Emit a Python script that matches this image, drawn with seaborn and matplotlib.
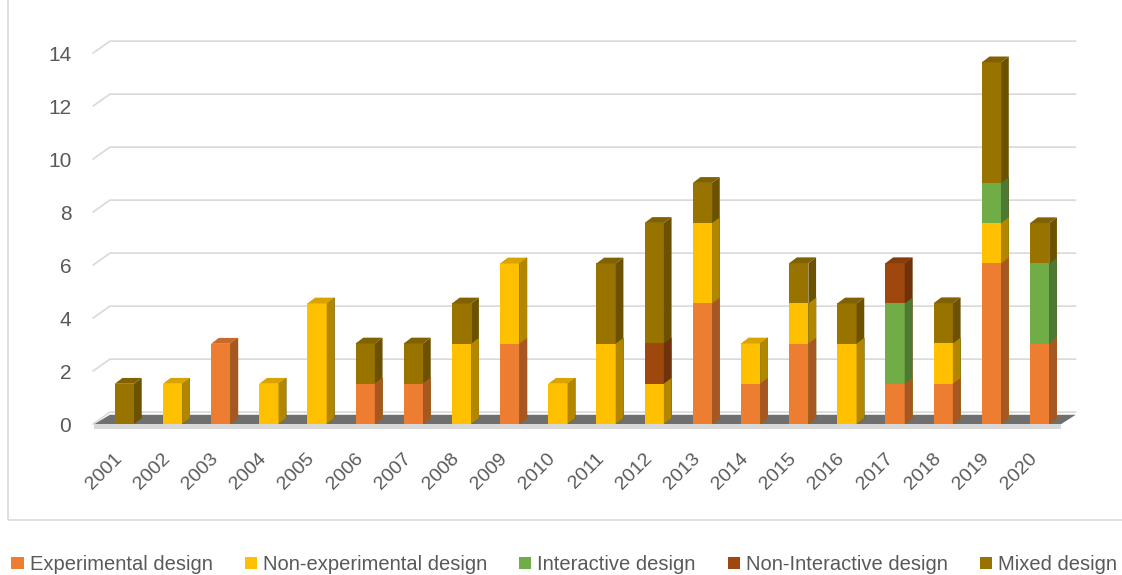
import matplotlib
matplotlib.use("Agg")
import matplotlib.pyplot as plt
import matplotlib.colors as mcolors
from matplotlib.patches import Polygon, Rectangle, Patch
from matplotlib.transforms import ScaledTranslation
import numpy as np
import pandas as pd
import seaborn as sns

years = [str(y) for y in range(2001, 2021)]
experimental     = [0, 0, 3.03, 0, 0, 1.52, 1.52, 0, 3.03, 0, 0, 0, 4.55, 1.52, 3.03, 0, 1.52, 1.52, 6.06, 3.03]
non_experimental = [0, 1.52, 0, 1.52, 4.55, 0, 0, 3.03, 3.03, 1.52, 3.03, 1.52, 3.03, 1.52, 1.52, 3.03, 0, 1.52, 1.52, 0]
interactive      = [0, 0, 0, 0, 0, 0, 0, 0, 0, 0, 0, 0, 0, 0, 0, 0, 3.03, 0, 1.52, 3.03]
non_interactive  = [0, 0, 0, 0, 0, 0, 0, 0, 0, 0, 0, 1.52, 0, 0, 0, 0, 1.52, 0, 0, 0]
mixed            = [1.52, 0, 0, 0, 0, 1.52, 1.52, 1.52, 0, 0, 3.03, 4.55, 1.52, 0, 1.52, 1.52, 0, 1.52, 4.55, 1.52]

series_names = ["Experimental design", "Non-experimental design", "Interactive design",
                "Non-Interactive design", "Mixed design"]
series_vals = [experimental, non_experimental, interactive, non_interactive, mixed]
colors = ["#ED7D31", "#FFC000", "#70AD47", "#9E480E", "#997300"]
yticks = [0, 2, 4, 6, 8, 10, 12, 14]

TEXT = "#595959"
sns.set_theme(style="white")
plt.rcParams["font.family"] = ["Liberation Sans", "DejaVu Sans"]

fig = plt.figure(figsize=(11.22, 5.75), dpi=100)
ax = fig.add_axes([0.0722, 0.2464, 0.893, 0.7166])

df = pd.DataFrame({"year": years})
for n, v in zip(series_names, series_vals):
    df[n] = v
cum = df[series_names].cumsum(axis=1)

def darker(c, f):
    r, g, b = mcolors.to_rgb(c)
    return (r * f, g * f, b * f)

dx, dy = 0.16, 0.22
# draw from top layer down so lower segments overlay
for k in range(len(series_names) - 1, -1, -1):
    n0 = len(ax.patches)
    sns.barplot(x=df["year"], y=cum[series_names[k]], color=colors[k], saturation=1,
                width=0.4, ax=ax, zorder=3, linewidth=0)
    for p in ax.patches[n0:]:
        h = p.get_height()
        if h <= 0:
            continue
        x0 = p.get_x(); w = p.get_width()
        ax.add_patch(Polygon([(x0 + w, 0), (x0 + w + dx, dy), (x0 + w + dx, h + dy), (x0 + w, h)],
                             closed=True, facecolor=darker(colors[k], 0.7), edgecolor="none", zorder=3))

# top faces for the total height
for i, p in enumerate(ax.patches[:len(years)]):
    h = p.get_height()
    col = None
    for k in range(len(series_names) - 1, -1, -1):
        if series_vals[k][i] > 0:
            col = colors[k]
            break
    if col is None:
        continue
    x0 = p.get_x(); w = p.get_width()
    ax.add_patch(Polygon([(x0, h), (x0 + w, h), (x0 + w + dx, h + dy), (x0 + dx, h + dy)],
                         closed=True, facecolor=darker(col, 0.85), edgecolor="none", zorder=3))

# gridlines with a slanted stub (3D back wall look)
for t in yticks:
    ax.plot([-0.65, -0.3, 19.75], [t, t + 0.45, t + 0.45], color="#d9d9d9", lw=1.2,
            zorder=1, solid_joinstyle="round")

# floor
ax.add_patch(Polygon([(-0.62, 0), (19.45, 0), (19.75, 0.35), (-0.3, 0.35)], closed=True,
                     facecolor="#6f6f6f", edgecolor="none", zorder=2))
ax.add_patch(Polygon([(-0.62, -0.18), (19.45, -0.18), (19.45, 0), (-0.62, 0)], closed=True,
                     facecolor="#d9d9d9", edgecolor="none", zorder=2))

ax.set_xlim(-0.9, 19.9)
ax.set_ylim(-0.35, 15.2)
ax.set_yticks(yticks)
ax.set_yticklabels([str(t) for t in yticks], fontsize=15, color=TEXT)
ax.tick_params(axis="y", length=0, pad=7)
ax.tick_params(axis="x", length=0, pad=0)
ax.set_xticks(range(len(years)))
ax.set_xticklabels(years, rotation=45, ha="right", va="center", rotation_mode="anchor",
                   fontsize=14, color=TEXT)
off = ScaledTranslation(-5 / 100, -23 / 100, fig.dpi_scale_trans)
for lab in ax.get_xticklabels():
    lab.set_transform(lab.get_transform() + off)
ax.set_xlabel("")
ax.set_ylabel("")
for s in ax.spines.values():
    s.set_visible(False)
ax.grid(False)

# chart border
fig.add_artist(Rectangle((8 / 1122, 55 / 575), 1.0, 1.0, transform=fig.transFigure,
                         facecolor="none", edgecolor="#d9d9d9", lw=1.2))

handles = [Patch(facecolor=c, edgecolor="none") for c in colors]
fig.legend(handles, series_names, loc="lower center", bbox_to_anchor=(0.503, -0.03), ncol=5,
           frameon=False, fontsize=14.5, handlelength=0.6, handleheight=0.6,
           handletextpad=0.3, columnspacing=1.6, labelcolor=TEXT)

fig.savefig("out.png", dpi=100)
